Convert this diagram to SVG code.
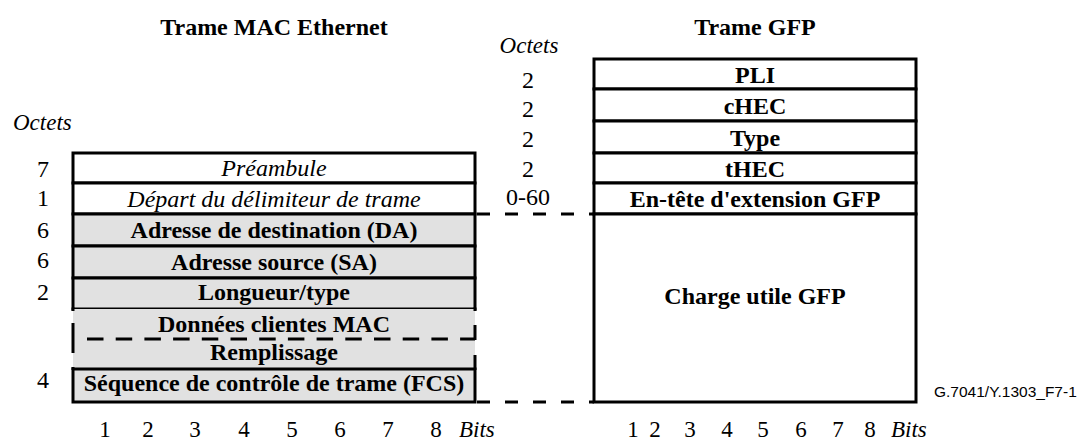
<svg xmlns="http://www.w3.org/2000/svg" width="1082" height="441" viewBox="0 0 1082 441">
<style>
text{font-family:"Liberation Serif","Times New Roman",serif;font-size:24px;fill:#000}
.b{font-weight:bold}
.i{font-style:italic}
.c{text-anchor:middle}
.n{font-size:24px}
.o{font-size:23px}
.w{fill:#fff;stroke:#000;stroke-width:3}
.g{fill:#e1e1e1;stroke:#000;stroke-width:3}
.d{stroke:#000;stroke-width:3;fill:none;stroke-dasharray:13 15}
.s{stroke:#000;stroke-width:3;fill:none}
.id{font-family:"Liberation Sans",Arial,sans-serif;font-size:15.5px}
</style>
<rect width="1082" height="441" fill="#fff"/>
<text class="b c" x="274" y="35">Trame MAC Ethernet</text>
<text class="b c" x="755" y="35">Trame GFP</text>
<text class="i o" x="13" y="130">Octets</text>
<text class="i c o" x="529" y="53">Octets</text>
<g id="eth-preambule"><rect class="w" x="73" y="153" width="402" height="30"/><text class="i c" x="274" y="176">Préambule</text><text class="c n" x="43" y="177">7</text></g>
<g id="eth-sfd"><rect class="w" x="73" y="183" width="402" height="31"/><text class="i c" x="274" y="207">Départ du délimiteur de trame</text><text class="c n" x="43" y="206">1</text></g>
<g id="eth-da"><rect class="g" x="73" y="214" width="402" height="32"/><text class="b c" x="274" y="238">Adresse de destination (DA)</text><text class="c n" x="43" y="238">6</text></g>
<g id="eth-sa"><rect class="g" x="73" y="246" width="402" height="32"/><text class="b c" x="274" y="270">Adresse source (SA)</text><text class="c n" x="43" y="268">6</text></g>
<g id="eth-lt"><rect class="g" x="73" y="278" width="402" height="31"/><text class="b c" x="274" y="300">Longueur/type</text><text class="c n" x="43" y="300">2</text></g>
<g id="eth-data">
<rect x="73" y="309" width="402" height="60" fill="#e1e1e1"/>
<line class="s" x1="73" y1="307.5" x2="73" y2="311"/>
<line class="s" x1="73" y1="323" x2="73" y2="353"/>
<line class="s" x1="73" y1="367" x2="73" y2="370"/>
<line class="s" x1="475" y1="307.5" x2="475" y2="311"/>
<line class="s" x1="475" y1="325" x2="475" y2="340"/>
<line class="s" x1="475" y1="355" x2="475" y2="370"/>
<line x1="87" y1="339" x2="475" y2="339" stroke="#000" stroke-width="3" stroke-dasharray="16.5 12.2"/>
<text class="b c" x="274" y="332">Données clientes MAC</text>
<text class="b c" x="274" y="360">Remplissage</text>
</g>
<g id="eth-fcs"><rect class="g" x="73" y="369" width="402" height="33"/><text class="b c" x="274" y="391">Séquence de contrôle de trame (FCS)</text><text class="c n" x="43" y="388">4</text></g>
<g id="gfp-pli"><rect class="w" x="594" y="59" width="322" height="30"/><text class="b c" x="755" y="83">PLI</text><text class="c n" x="528" y="88">2</text></g>
<g id="gfp-chec"><rect class="w" x="594" y="89" width="322" height="32"/><text class="b c" x="755" y="114">cHEC</text><text class="c n" x="528" y="117">2</text></g>
<g id="gfp-type"><rect class="w" x="594" y="121" width="322" height="32"/><text class="b c" x="755" y="146">Type</text><text class="c n" x="528" y="147">2</text></g>
<g id="gfp-thec"><rect class="w" x="594" y="153" width="322" height="30"/><text class="b c" x="755" y="177">tHEC</text><text class="c n" x="528" y="177">2</text></g>
<g id="gfp-ext"><rect class="w" x="594" y="183" width="322" height="31"/><text class="b c" x="755" y="207">En-tête d'extension GFP</text><text class="c n" x="528" y="205">0-60</text></g>
<g id="gfp-payload"><rect class="w" x="594" y="214" width="322" height="188"/><text class="b c" x="755" y="304">Charge utile GFP</text></g>
<g id="connectors">
<line class="d" x1="477" y1="214" x2="594" y2="214"/>
<line class="d" x1="477" y1="402" x2="594" y2="402"/>
</g>
<g id="bits-eth" class="o">
<text class="c o" x="105" y="437">1</text><text class="c o" x="148" y="437">2</text><text class="c o" x="195" y="437">3</text><text class="c o" x="244" y="437">4</text><text class="c o" x="292" y="437">5</text><text class="c o" x="340" y="437">6</text><text class="c o" x="388" y="437">7</text><text class="c o" x="436" y="437">8</text><text class="i o" x="459" y="437">Bits</text>
</g>
<g id="bits-gfp">
<text class="c o" x="633" y="437">1</text><text class="c o" x="655" y="437">2</text><text class="c o" x="690" y="437">3</text><text class="c o" x="727" y="437">4</text><text class="c o" x="763" y="437">5</text><text class="c o" x="801" y="437">6</text><text class="c o" x="838" y="437">7</text><text class="c o" x="870" y="437">8</text><text class="i o" x="891" y="437">Bits</text>
</g>
<text class="id" x="934" y="397">G.7041/Y.1303_F7-1</text>
</svg>
